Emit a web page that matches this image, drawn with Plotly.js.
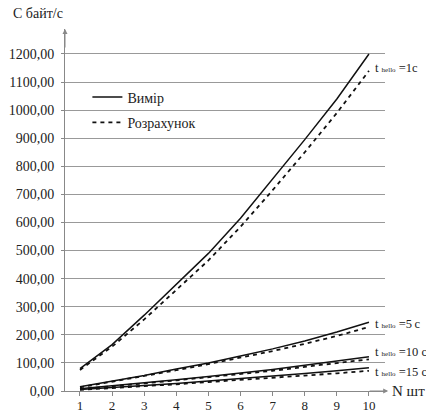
<!DOCTYPE html>
<html><head><meta charset="utf-8">
<script src="https://cdn.plot.ly/plotly-3.0.1.min.js"></script>
<style>html,body{margin:0;padding:0;background:#fff}#c{width:426px;height:413px}</style>
</head><body><div id="c"></div>
<script>
var N = [1,2,3,4,5,6,7,8,9,10];
var meas1  = [80,165,270,380,490,615,755,895,1040,1200];
var calc1  = [75,158,255,360,465,585,715,850,990,1140];
var meas5  = [15,35,55,78,100,125,150,178,210,245];
var calc5  = [13,33,52,74,96,118,142,168,196,228];
var meas10 = [8,18,29,40,52,64,77,92,107,122];
var calc10 = [7,16,27,38,49,60,72,86,100,113];
var meas15 = [5,12,19,27,36,44,53,62,72,83];
var calc15 = [4,10,17,24,32,39,47,55,63,72];
var yTickVals = [0,100,200,300,400,500,600,700,800,900,1000,1100,1200];
var yTickText = ["0,00","100,00","200,00","300,00","400,00","500,00","600,00","700,00","800,00","900,00","1000,00","1100,00","1200,00"];
var xTickVals = N;
var seriesLabels = ["=1c","=5\u2009c","=10 c","=15 c"];
var labelY = [1150,240,140,68];

var F = "Liberation Serif";
var solid = {color:"#111", width:1.5, dash:"solid"};
var dashed = {color:"#111", width:1.8, dash:"4px,4px"};
var traces = [
  {x:N, y:meas1, mode:"lines", line:solid, name:"Вимір", legendgroup:"a", showlegend:true},
  {x:N, y:calc1, mode:"lines", line:dashed, name:"Розрахунок", legendgroup:"b", showlegend:true},
  {x:N, y:meas5, mode:"lines", line:solid, showlegend:false},
  {x:N, y:calc5, mode:"lines", line:dashed, showlegend:false},
  {x:N, y:meas10, mode:"lines", line:solid, showlegend:false},
  {x:N, y:calc10, mode:"lines", line:dashed, showlegend:false},
  {x:N, y:meas15, mode:"lines", line:solid, showlegend:false},
  {x:N, y:calc15, mode:"lines", line:dashed, showlegend:false}
];
var anns = [];
for (var i=0;i<seriesLabels.length;i++){
  anns.push({xref:"paper", yref:"y", x:1.0, y:labelY[i], xanchor:"left", yanchor:"middle", showarrow:false,
    xshift:-12,
    text:"t <span style='font-size:7px'>hello</span> "+seriesLabels[i], font:{family:F,size:12.5,color:"#222"}});
}
anns.push({xref:"paper", yref:"paper", x:1.0, y:0, xanchor:"left", yanchor:"middle", showarrow:false, xshift:5,
  text:"N шт", font:{family:F,size:15,color:"#222"}});
anns.push({xref:"paper", yref:"paper", x:0, y:1, xanchor:"center", yanchor:"bottom", showarrow:false, xshift:-27, yshift:6,
  text:"C байт/с", font:{family:F,size:14,color:"#222"}});
// axis arrows
anns.push({xref:"paper", yref:"paper", x:0, y:1, ax:0, ay:20, showarrow:true, arrowhead:2, arrowsize:1, arrowwidth:1, arrowcolor:"#888", text:""});
anns.push({xref:"paper", yref:"paper", x:1.01, y:0, ax:-20, ay:0, showarrow:true, arrowhead:2, arrowsize:1, arrowwidth:1, arrowcolor:"#888", text:""});

var layout = {
  width:426, height:413,
  margin:{l:65, r:41, t:29, b:22, pad:0},
  paper_bgcolor:"#fff", plot_bgcolor:"#fff",
  font:{family:F, size:14, color:"#222"},
  xaxis:{range:[0.533,10.5], tickvals:xTickVals, ticks:"outside", ticklen:4, tickcolor:"#888",
    showgrid:false, zeroline:false, showline:true, linecolor:"#888", linewidth:1,
    tickfont:{family:F,size:13,color:"#222"}, ticklabelstandoff:-2, fixedrange:true},
  yaxis:{range:[0,1289], tickvals:yTickVals, ticktext:yTickText, ticks:"outside", ticklen:3, tickcolor:"#888",
    showgrid:true, gridcolor:"#999", gridwidth:1, zeroline:false, showline:true, linecolor:"#888", linewidth:1,
    tickfont:{family:F,size:14,color:"#222"}, ticklabelstandoff:4},
  legend:{x:0.07, y:0.855, xanchor:"left", yanchor:"top", bgcolor:"rgba(0,0,0,0)", font:{family:F,size:14,color:"#222"},
    traceorder:"grouped", tracegroupgap:4, itemwidth:30},
  annotations:anns,
  showlegend:true
};
Plotly.newPlot("c", traces, layout, {displayModeBar:false, staticPlot:true});
</script></body></html>
